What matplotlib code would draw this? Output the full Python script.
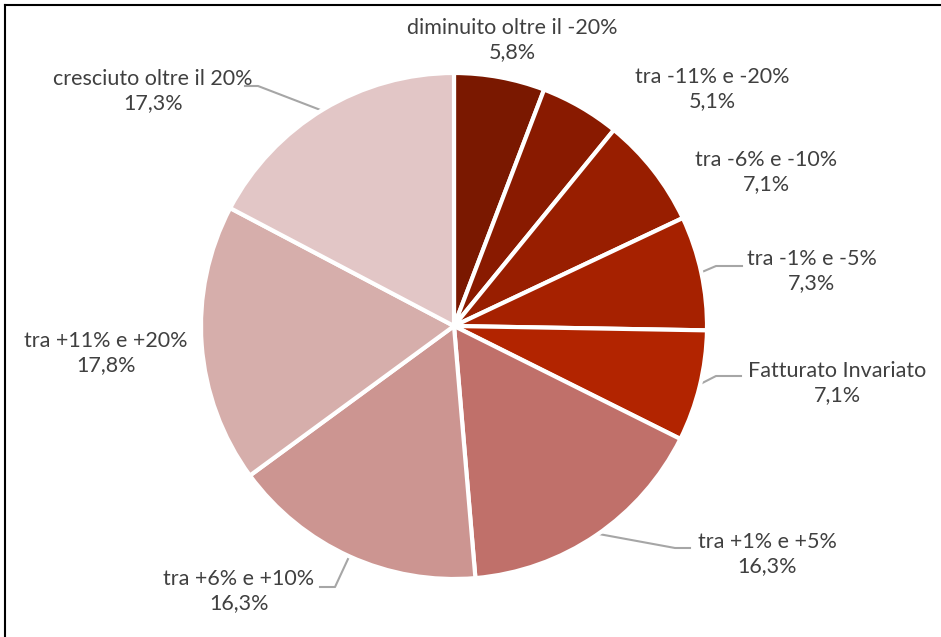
import numpy as np
import matplotlib
matplotlib.use('Agg')
import matplotlib.pyplot as plt

# Chart data
categories = [
    'diminuito oltre il -20%',
    'tra -11% e -20%',
    'tra -6% e -10%',
    'tra -1% e -5%',
    'Fatturato Invariato',
    'tra +1% e +5%',
    'tra +6% e +10%',
    'tra +11% e +20%',
    'cresciuto oltre il 20%',
]
values = [5.8, 5.1, 7.1, 7.3, 7.1, 16.3, 16.3, 17.8, 17.3]
value_labels = ['5,8%', '5,1%', '7,1%', '7,3%', '7,1%', '16,3%', '16,3%', '17,8%', '17,3%']
colors = ['#7A1800', '#891A00', '#981E00', '#A62100', '#B22400',
          '#C0706A', '#CC9591', '#D6AEAB', '#E2C6C6']

W, H = 941, 637
fig = plt.figure(figsize=(W / 100, H / 100), dpi=100)
ax = fig.add_axes([0, 0, 1, 1])

cx, cy, r = 454, 326, 253

# y axis inverted -> counterclock=True renders clockwise on screen
wedges, _ = ax.pie(values, colors=colors, startangle=-90, counterclock=True,
                   center=(cx, cy), radius=r, frame=True,
                   wedgeprops=dict(edgecolor='white', linewidth=3))
ax.set_xlim(0, W)
ax.set_ylim(H, 0)
ax.set_aspect('equal')
ax.axis('off')

# label layout: text centre, and leader path (elbow, end) or None
label_pos = [
    (512, 40, None),
    (712, 89, None),
    (766, 172, None),
    (812, 271, [(716, 266), (742, 266)]),
    (837, 383, [(716, 376), (741, 376)]),
    (767, 554, [(675, 548), (690, 548)]),
    (239, 591, [(335, 587), (320, 587)]),
    (106, 353, None),
    (153, 91, [(258, 86), (245, 86)]),
]

txt_color = '#404040'
for w, cat, vl, (tx, ty, path) in zip(wedges, categories, value_labels, label_pos):
    ax.text(tx, ty, f'{cat}\n{vl}', ha='center', va='center', fontsize=15.5,
            family='Lato', color=txt_color, linespacing=1.3)
    if path:
        ang = np.deg2rad((w.theta1 + w.theta2) / 2)
        sx = cx + 0.99 * r * np.cos(ang)
        sy = cy + 0.99 * r * np.sin(ang)
        xs = [sx] + [p[0] for p in path]
        ys = [sy] + [p[1] for p in path]
        ax.plot(xs, ys, color='#A6A6A6', lw=1.5, zorder=0)

# frame lines (top and left)
fig.add_artist(plt.Line2D([5 / W, 1], [1 - 5 / H, 1 - 5 / H], color='black', lw=1.5))
fig.add_artist(plt.Line2D([5 / W, 5 / W], [0, 1 - 5 / H], color='black', lw=1.5))

fig.savefig('out.png', dpi=100, facecolor='white')
